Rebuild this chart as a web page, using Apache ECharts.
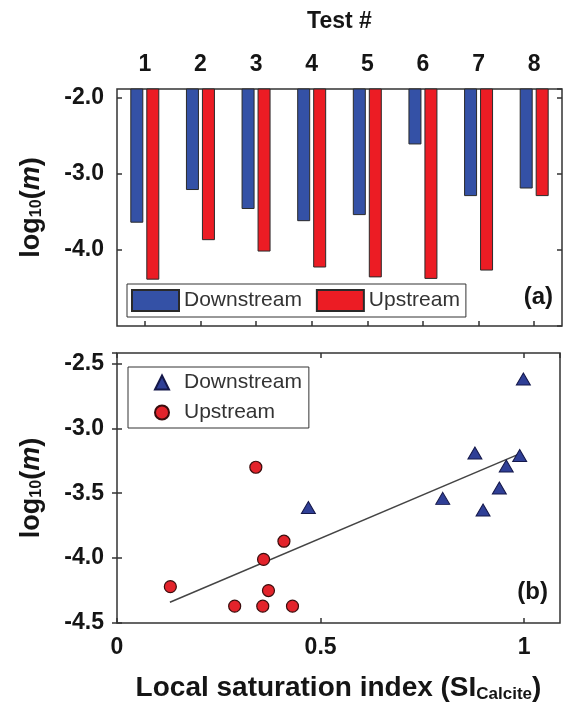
<!DOCTYPE html>
<html><head><meta charset="utf-8">
<script src="https://cdn.jsdelivr.net/npm/echarts@6/dist/echarts.min.js"></script>
<style>html,body{margin:0;padding:0;background:#fff}#c{width:563px;height:711px}</style>
</head><body><div id="c"></div>
<script>
// ---- data ----
const tests = ['1','2','3','4','5','6','7','8'];
const downstreamLog = [-3.64,-3.21,-3.46,-3.62,-3.54,-2.61,-3.29,-3.19];
const upstreamLog   = [-4.39,-3.87,-4.02,-4.23,-4.36,-4.38,-4.27,-3.29];
const downstreamSI  = [0.899,0.989,0.939,0.470,0.800,0.998,0.956,0.879];
const downstreamY   = [-3.63,-3.21,-3.46,-3.61,-3.54,-2.62,-3.29,-3.19];
const upstreamSI    = [0.358,0.410,0.360,0.131,0.289,0.431,0.372,0.341];
const upstreamY     = [-4.37,-3.87,-4.01,-4.22,-4.37,-4.37,-4.25,-3.30];
const fitSI = [0.13, 0.99];
const fitY  = [-4.34, -3.195];
const yRangeA = [-5, -1.88];   // panel (a) value range
const yRangeB = [-4.5, -2.42]; // panel (b) value range
const xRangeB = [0, 1.088];

const FONT = 'Liberation Sans, Arial, sans-serif';
const BLUE = '#3451a6', RED = '#ec1c24', EDGE = '#2a2a2a';
const txt = '#151515';

const zip = (a, b) => a.map((v, i) => [v, b[i]]);

const yName = {
  name: '{a|log}{s|10}{a|(}{i|m}{a|)}',
  nameLocation: 'middle', nameRotate: 90,
  nameTextStyle: {
    fontFamily: FONT, color: txt,
    rich: {
      a: {fontFamily: FONT, fontSize: 27, fontWeight: 'bold', color: txt},
      s: {fontFamily: FONT, fontSize: 16, fontWeight: 'bold', color: txt, padding: [11, 0, 0, 0]},
      i: {fontFamily: FONT, fontSize: 27, fontWeight: 'bold', fontStyle: 'italic', color: txt}
    }
  }
};
const tickLabel = {fontFamily: FONT, fontSize: 23, fontWeight: 'bold', color: txt};
const frameLine = {show: false};
const inTick = {show: true, inside: true, length: 5, lineStyle: {color: '#333', width: 1.5}};

const chart = echarts.init(document.getElementById('c'), null, {renderer: 'canvas'});
chart.setOption({
  animation: false,
  backgroundColor: '#fff',
  title: [
    {text: '(a)', right: 10, top: 285, padding: 0, textStyle: {fontFamily: FONT, fontSize: 24, fontWeight: 'bold', color: txt}},
    {text: '(b)', right: 15, top: 580, padding: 0, textStyle: {fontFamily: FONT, fontSize: 24, fontWeight: 'bold', color: txt}}
  ],
  grid: [
    {left: 117, top: 89, right: 1, height: 237, show: true, borderColor: '#333', borderWidth: 1.5, backgroundColor: 'transparent'},
    {left: 117, top: 353, right: 3, height: 270, show: true, borderColor: '#333', borderWidth: 1.5, backgroundColor: 'transparent'}
  ],
  legend: [
    {
      data: ['Downstream', 'Upstream'], left: 127, top: 284, orient: 'horizontal',
      itemWidth: 47, itemHeight: 21, itemGap: 14, icon: 'rect',
      borderColor: '#333', borderWidth: 1, padding: [5, 6, 5, 4],
      textStyle: {fontFamily: FONT, fontSize: 21, color: '#333'}
    },
    {
      data: ['Downstream_b', 'Upstream_b'], left: 128, top: 367, orient: 'vertical',
      itemWidth: 14, itemHeight: 14, itemGap: 9,
      borderColor: '#333', borderWidth: 1, padding: [5, 7, 5, 26],
      formatter: n => n.replace('_b', ''),
      textStyle: {fontFamily: FONT, fontSize: 21, color: '#333', padding: [0, 0, 0, 10]}
    }
  ],
  xAxis: [
    {
      gridIndex: 0, type: 'category', data: tests, position: 'top',
      name: 'Test #', nameLocation: 'middle', nameGap: 56,
      nameTextStyle: {fontFamily: FONT, fontSize: 23, fontWeight: 'bold', color: txt},
      axisLine: frameLine, axisTick: {show: false},
      axisLabel: Object.assign({margin: 13}, tickLabel)
    },
    {
      gridIndex: 0, type: 'category', data: tests, position: 'bottom',
      axisLine: frameLine, axisTick: Object.assign({alignWithLabel: true}, inTick),
      axisLabel: {show: false}
    },
    {
      gridIndex: 1, type: 'value', min: xRangeB[0], max: xRangeB[1], interval: 0.5, position: 'bottom',
      name: '{a|Local saturation index (SI}{s|Calcite}{a|)}', nameLocation: 'middle', nameGap: 50,
      nameTextStyle: {
        fontFamily: FONT, color: txt,
        rich: {
          a: {fontFamily: FONT, fontSize: 28, fontWeight: 'bold', color: txt},
          s: {fontFamily: FONT, fontSize: 17, fontWeight: 'bold', color: txt, padding: [13, 0, 0, 0]}
        }
      },
      axisLine: frameLine, axisTick: inTick, splitLine: {show: false},
      axisLabel: Object.assign({margin: 13, showMaxLabel: false, formatter: v => String(v)}, tickLabel)
    },
    {
      gridIndex: 1, type: 'value', min: xRangeB[0], max: xRangeB[1], interval: 0.5, position: 'top',
      axisLine: frameLine, axisTick: inTick, splitLine: {show: false}, axisLabel: {show: false}
    }
  ],
  yAxis: [
    Object.assign({
      gridIndex: 0, type: 'value', min: yRangeA[0], max: yRangeA[1], interval: 1, position: 'left',
      nameGap: 72,
      axisLine: frameLine, axisTick: inTick, splitLine: {show: false},
      axisLabel: Object.assign({margin: 13, showMinLabel: false, showMaxLabel: false, formatter: v => v.toFixed(1)}, tickLabel)
    }, yName),
    {
      gridIndex: 0, type: 'value', min: yRangeA[0], max: yRangeA[1], interval: 1, position: 'right',
      axisLine: frameLine, axisTick: inTick, splitLine: {show: false}, axisLabel: {show: false}
    },
    Object.assign({
      gridIndex: 1, type: 'value', min: yRangeB[0], max: yRangeB[1], interval: 0.5, position: 'left',
      nameGap: 72,
      axisLine: frameLine, axisTick: inTick, splitLine: {show: false},
      axisLabel: Object.assign({margin: 13, showMaxLabel: false, formatter: v => v.toFixed(1)}, tickLabel)
    }, yName),
    {
      gridIndex: 1, type: 'value', min: yRangeB[0], max: yRangeB[1], interval: 0.5, position: 'right',
      axisLine: frameLine, axisTick: inTick, splitLine: {show: false}, axisLabel: {show: false}
    }
  ],
  series: [
    {
      name: 'Downstream', type: 'bar', xAxisIndex: 0, yAxisIndex: 0, data: downstreamLog,
      barWidth: 13, barGap: '23%', clip: true,
      itemStyle: {color: BLUE, borderColor: EDGE, borderWidth: 1}
    },
    {
      name: 'Upstream', type: 'bar', xAxisIndex: 0, yAxisIndex: 0, data: upstreamLog,
      barWidth: 13, barGap: '23%', clip: true,
      itemStyle: {color: RED, borderColor: EDGE, borderWidth: 1}
    },
    {
      name: 'fit', type: 'line', xAxisIndex: 2, yAxisIndex: 2, data: zip(fitSI, fitY),
      symbol: 'none', lineStyle: {color: '#444', width: 1.5}, z: 1
    },
    {
      name: 'Downstream_b', type: 'scatter', xAxisIndex: 2, yAxisIndex: 2, data: zip(downstreamSI, downstreamY),
      symbol: 'triangle', symbolSize: [14, 12],
      itemStyle: {color: '#2f3f96', borderColor: '#15184a', borderWidth: 1, opacity: 1}, z: 3
    },
    {
      name: 'Upstream_b', type: 'scatter', xAxisIndex: 2, yAxisIndex: 2, data: zip(upstreamSI, upstreamY),
      symbol: 'circle', symbolSize: 12,
      itemStyle: {color: '#e3232b', borderColor: '#3a0d0d', borderWidth: 1.2, opacity: 1}, z: 3
    }
  ]
});
</script>
</body></html>
